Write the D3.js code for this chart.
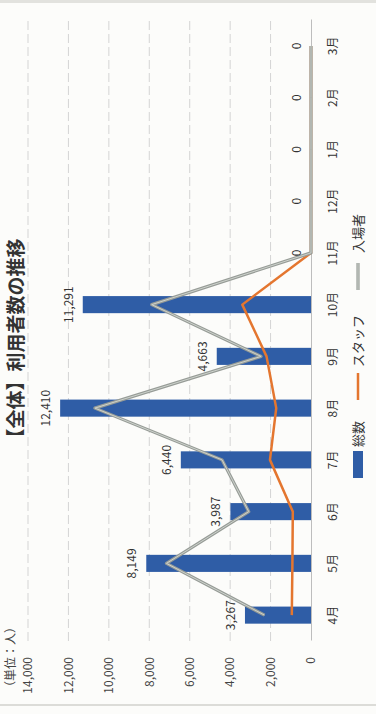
<!DOCTYPE html>
<html>
<head>
<meta charset="utf-8">
<title>【全体】利用者数の推移</title>
<style>
  body { margin: 0; background: #fcfcfa; }
  text { font-family: "Noto Sans CJK JP", "Noto Sans", sans-serif; }
</style>
</head>
<body>
<script src="https://cdn.jsdelivr.net/npm/d3@7/dist/d3.min.js"></script>
<script>

var months   = ["4月", "5月", "6月", "7月", "8月", "9月", "10月", "11月", "12月", "1月", "2月", "3月"];
var total    = [3267, 8149, 3987, 6440, 12410, 4663, 11291, 0, 0, 0, 0, 0];
var staff    = [950, 920, 900, 2030, 1720, 2200, 3400, 0, 0, 0, 0, 0];
var visitors = [2300, 7150, 3080, 4400, 10690, 2470, 7880, 0, 0, 0, 0, 0];
var yTicks   = [0, 2000, 4000, 6000, 8000, 10000, 12000, 14000];

var width = 376, height = 714;

// the page is a scan of a column chart turned 90deg to the left,
// so draw it as a normal column chart and rotate the group
var plotW = 621, plotH = 283;

var svg = d3.select("body").append("svg")
    .attr("width", width)
    .attr("height", height);

// scan edges
svg.append("rect").attr("x", 0).attr("y", 0).attr("width", width).attr("height", 3).style("fill", "#e2e2de");
svg.append("line").attr("x1", 0).attr("x2", width).attr("y1", 705).attr("y2", 705)
    .style("stroke", "#dcdcd8").style("stroke-width", 2);

var g = svg.append("g")
    .attr("transform", "translate(28,641) rotate(-90)");

var x = d3.scaleBand()
    .domain(months)
    .range([0, plotW])
    .paddingInner(0.67)
    .paddingOuter(0.335);

var y = d3.scaleLinear()
    .domain([0, 14000])
    .range([plotH, 0]);

var fmt = d3.format(",");
var cx = function(d, i) { return x(months[i]) + x.bandwidth() / 2; };

// gridlines
g.selectAll("line.grid")
    .data(yTicks.slice(1))
    .enter().append("line")
    .attr("class", "grid")
    .attr("x1", 0)
    .attr("x2", plotW)
    .attr("y1", function(d) { return y(d); })
    .attr("y2", function(d) { return y(d); })
    .style("stroke", "#d4d4d4")
    .style("stroke-width", 1)
    .style("stroke-dasharray", "9,4");

// value axis
var yAxis = g.append("g")
    .call(d3.axisLeft(y).tickValues(yTicks).tickFormat(fmt).tickSize(0).tickPadding(16));
yAxis.select(".domain").remove();
yAxis.selectAll("text")
    .style("font-family", "Noto Sans CJK JP")
    .style("font-size", "12px")
    .style("fill", "#444");

// bars
g.selectAll("rect.bar")
    .data(total)
    .enter().append("rect")
    .attr("class", "bar")
    .attr("x", function(d, i) { return x(months[i]); })
    .attr("width", x.bandwidth())
    .attr("y", function(d) { return y(d); })
    .attr("height", function(d) { return plotH - y(d); })
    .style("fill", "#2f5da6");

// category axis
var xAxis = g.append("g")
    .attr("transform", "translate(0," + plotH + ")")
    .call(d3.axisBottom(x).tickSize(0).tickPadding(17));
xAxis.select(".domain").style("stroke", "#bdbdbd");
xAxis.selectAll("text")
    .style("font-family", "Noto Sans CJK JP")
    .style("font-size", "12px")
    .style("fill", "#333");

var line = d3.line()
    .x(cx)
    .y(function(d) { return y(d); });

g.append("path")
    .datum(staff)
    .attr("d", line)
    .style("fill", "none")
    .style("stroke", "#e4762f")
    .style("stroke-width", 2.5)
    .style("stroke-linejoin", "round");

g.append("path")
    .datum(visitors)
    .attr("d", line)
    .style("fill", "none")
    .style("stroke", "#979c97")
    .style("stroke-width", 3.2)
    .style("stroke-linejoin", "round");

g.append("path")
    .datum(visitors)
    .attr("d", line)
    .style("fill", "none")
    .style("stroke", "#cdd2cc")
    .style("stroke-width", 1)
    .style("stroke-linejoin", "round");

// data labels
g.selectAll("text.lbl")
    .data(total)
    .enter().append("text")
    .attr("class", "lbl")
    .attr("x", cx)
    .attr("y", function(d) { return y(d) - 10; })
    .attr("text-anchor", "middle")
    .text(fmt)
    .style("font-size", "12px")
    .style("fill", "#333");

// legend
var leg = g.append("g").attr("transform", "translate(0,330)");
leg.append("rect").attr("x", 163).attr("y", -5).attr("width", 27).attr("height", 10).style("fill", "#2f5da6");
leg.append("text").attr("x", 194).attr("y", 5).text("総数")
    .style("font-size", "13px").style("fill", "#333");
leg.append("line").attr("x1", 241).attr("x2", 268).attr("y1", 0).attr("y2", 0)
    .style("stroke", "#e4762f").style("stroke-width", 2.5);
leg.append("text").attr("x", 274).attr("y", 5).text("スタッフ")
    .style("font-size", "13px").style("fill", "#333");
leg.append("line").attr("x1", 351).attr("x2", 378).attr("y1", 0).attr("y2", 0)
    .style("stroke", "#979c97").style("stroke-width", 3.2);
leg.append("line").attr("x1", 351).attr("x2", 378).attr("y1", 0).attr("y2", 0)
    .style("stroke", "#cdd2cc").style("stroke-width", 1);
leg.append("text").attr("x", 388).attr("y", 5).text("入場者")
    .style("font-size", "13px").style("fill", "#333");

// title and unit
g.append("text")
    .attr("x", 298)
    .attr("y", -5)
    .attr("text-anchor", "middle")
    .text("【全体】利用者数の推移")
    .style("font-size", "19px")
    .style("font-weight", "bold")
    .style("fill", "#333");

g.append("text")
    .attr("x", -52)
    .attr("y", -13)
    .text("（単位：人）")
    .style("font-size", "12px")
    .style("fill", "#444");

</script>
</body>
</html>
